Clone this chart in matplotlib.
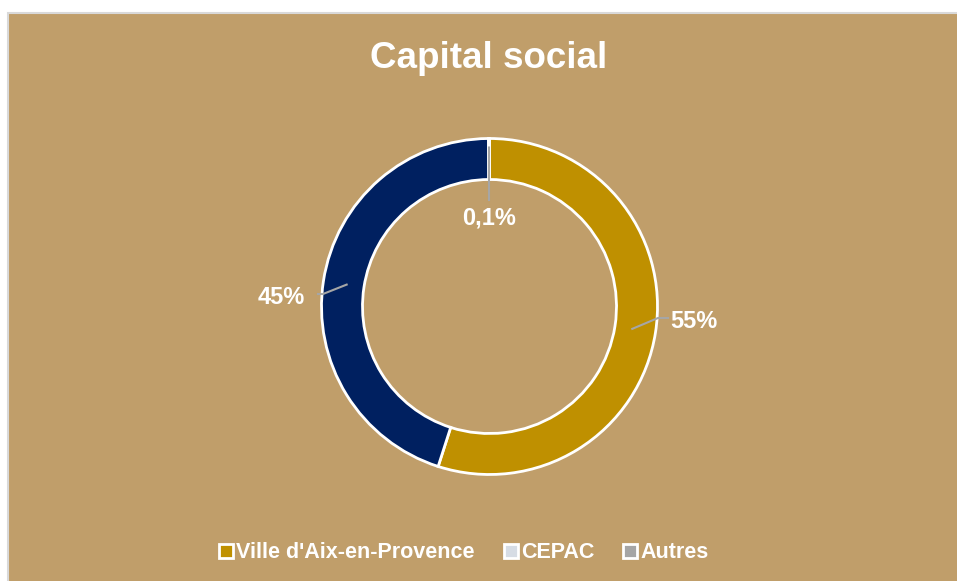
import matplotlib.pyplot as plt
from matplotlib.patches import Rectangle, Patch
import numpy as np

# data
categories = ["Ville d'Aix-en-Provence", "CEPAC", "Autres"]
shares = [55, 0.1, 45]
labels = ["55%", "0,1%", "45%"]
slice_colors = ["#BF9000", "#D6DCE4", "#002060"]
legend_colors = ["#BF9000", "#D6DCE4", "#A5A5A5"]

W, H = 957, 581
bg = "#C09E6A"
plt.rcParams['font.family'] = ['Liberation Sans', 'DejaVu Sans']

fig = plt.figure(figsize=(W / 100, H / 100), dpi=100, facecolor='white')
ax = fig.add_axes([0, 0, 1, 1])

# clockwise from the top: Ville, Autres, then the thin CEPAC slice
order = [0, 2, 1]
cx, cy = 489.5, H - 306.5
R, ring = 168, 41
wedges, _ = ax.pie([shares[i] for i in order], colors=[slice_colors[i] for i in order],
                   startangle=90, counterclock=False, center=(cx, cy), radius=R,
                   wedgeprops=dict(width=ring, edgecolor='white', linewidth=2))
for w in wedges:
    w.set_zorder(3)

ax.set_xlim(0, W)
ax.set_ylim(0, H)
ax.set_aspect('equal')
ax.axis('off')

# chart area
ax.add_patch(Rectangle((8, -5), W, H - 13 + 5, facecolor=bg, edgecolor='#D9D9D9',
                       linewidth=1.5, zorder=0))

ax.text(488.5, H - 68, "Capital social", ha='center', va='baseline', fontsize=26.5,
        fontweight='bold', color='white')

# data labels with leader lines (text anchor in pixels, leader end)
lbl_pos = {0: (694, 321), 1: (489, 218), 2: (281, 297)}
lead_end = {0: (668, 318), 1: (489, 200), 2: (318, 294)}
for k, w in zip(order, wedges):
    mid = np.deg2rad((w.theta1 + w.theta2) / 2)
    r0 = R - ring / 2 - 3 if k != 1 else R - 9
    x0, y0 = cx + r0 * np.cos(mid), cy + r0 * np.sin(mid)
    tx, ty = lbl_pos[k]
    ex, ey = lead_end[k]
    ey = H - ey
    if k == 1:
        ax.plot([x0, ex], [y0, ey], color='#A6A6A6', lw=1.5, zorder=4)
    else:
        kx = ex + (-10 if k == 0 else 5)
        ax.plot([x0, kx, ex], [y0, ey, ey], color='#A6A6A6', lw=1.5, zorder=4)
    ax.text(tx, H - ty, labels[k], ha='center', va='center', fontsize=17,
            fontweight='bold', color='white', zorder=5)

handles = [Patch(facecolor=c, edgecolor='white', linewidth=2) for c in legend_colors]
fig.legend(handles, categories, loc='center', bbox_to_anchor=(464 / W, (H - 553) / H),
           ncol=3, frameon=False, handlelength=0.65, handleheight=0.65,
           handletextpad=0.15, columnspacing=1.35, labelcolor='white',
           prop={'weight': 'bold', 'size': 15.5})

fig.savefig('out.png', dpi=100, facecolor='white')
